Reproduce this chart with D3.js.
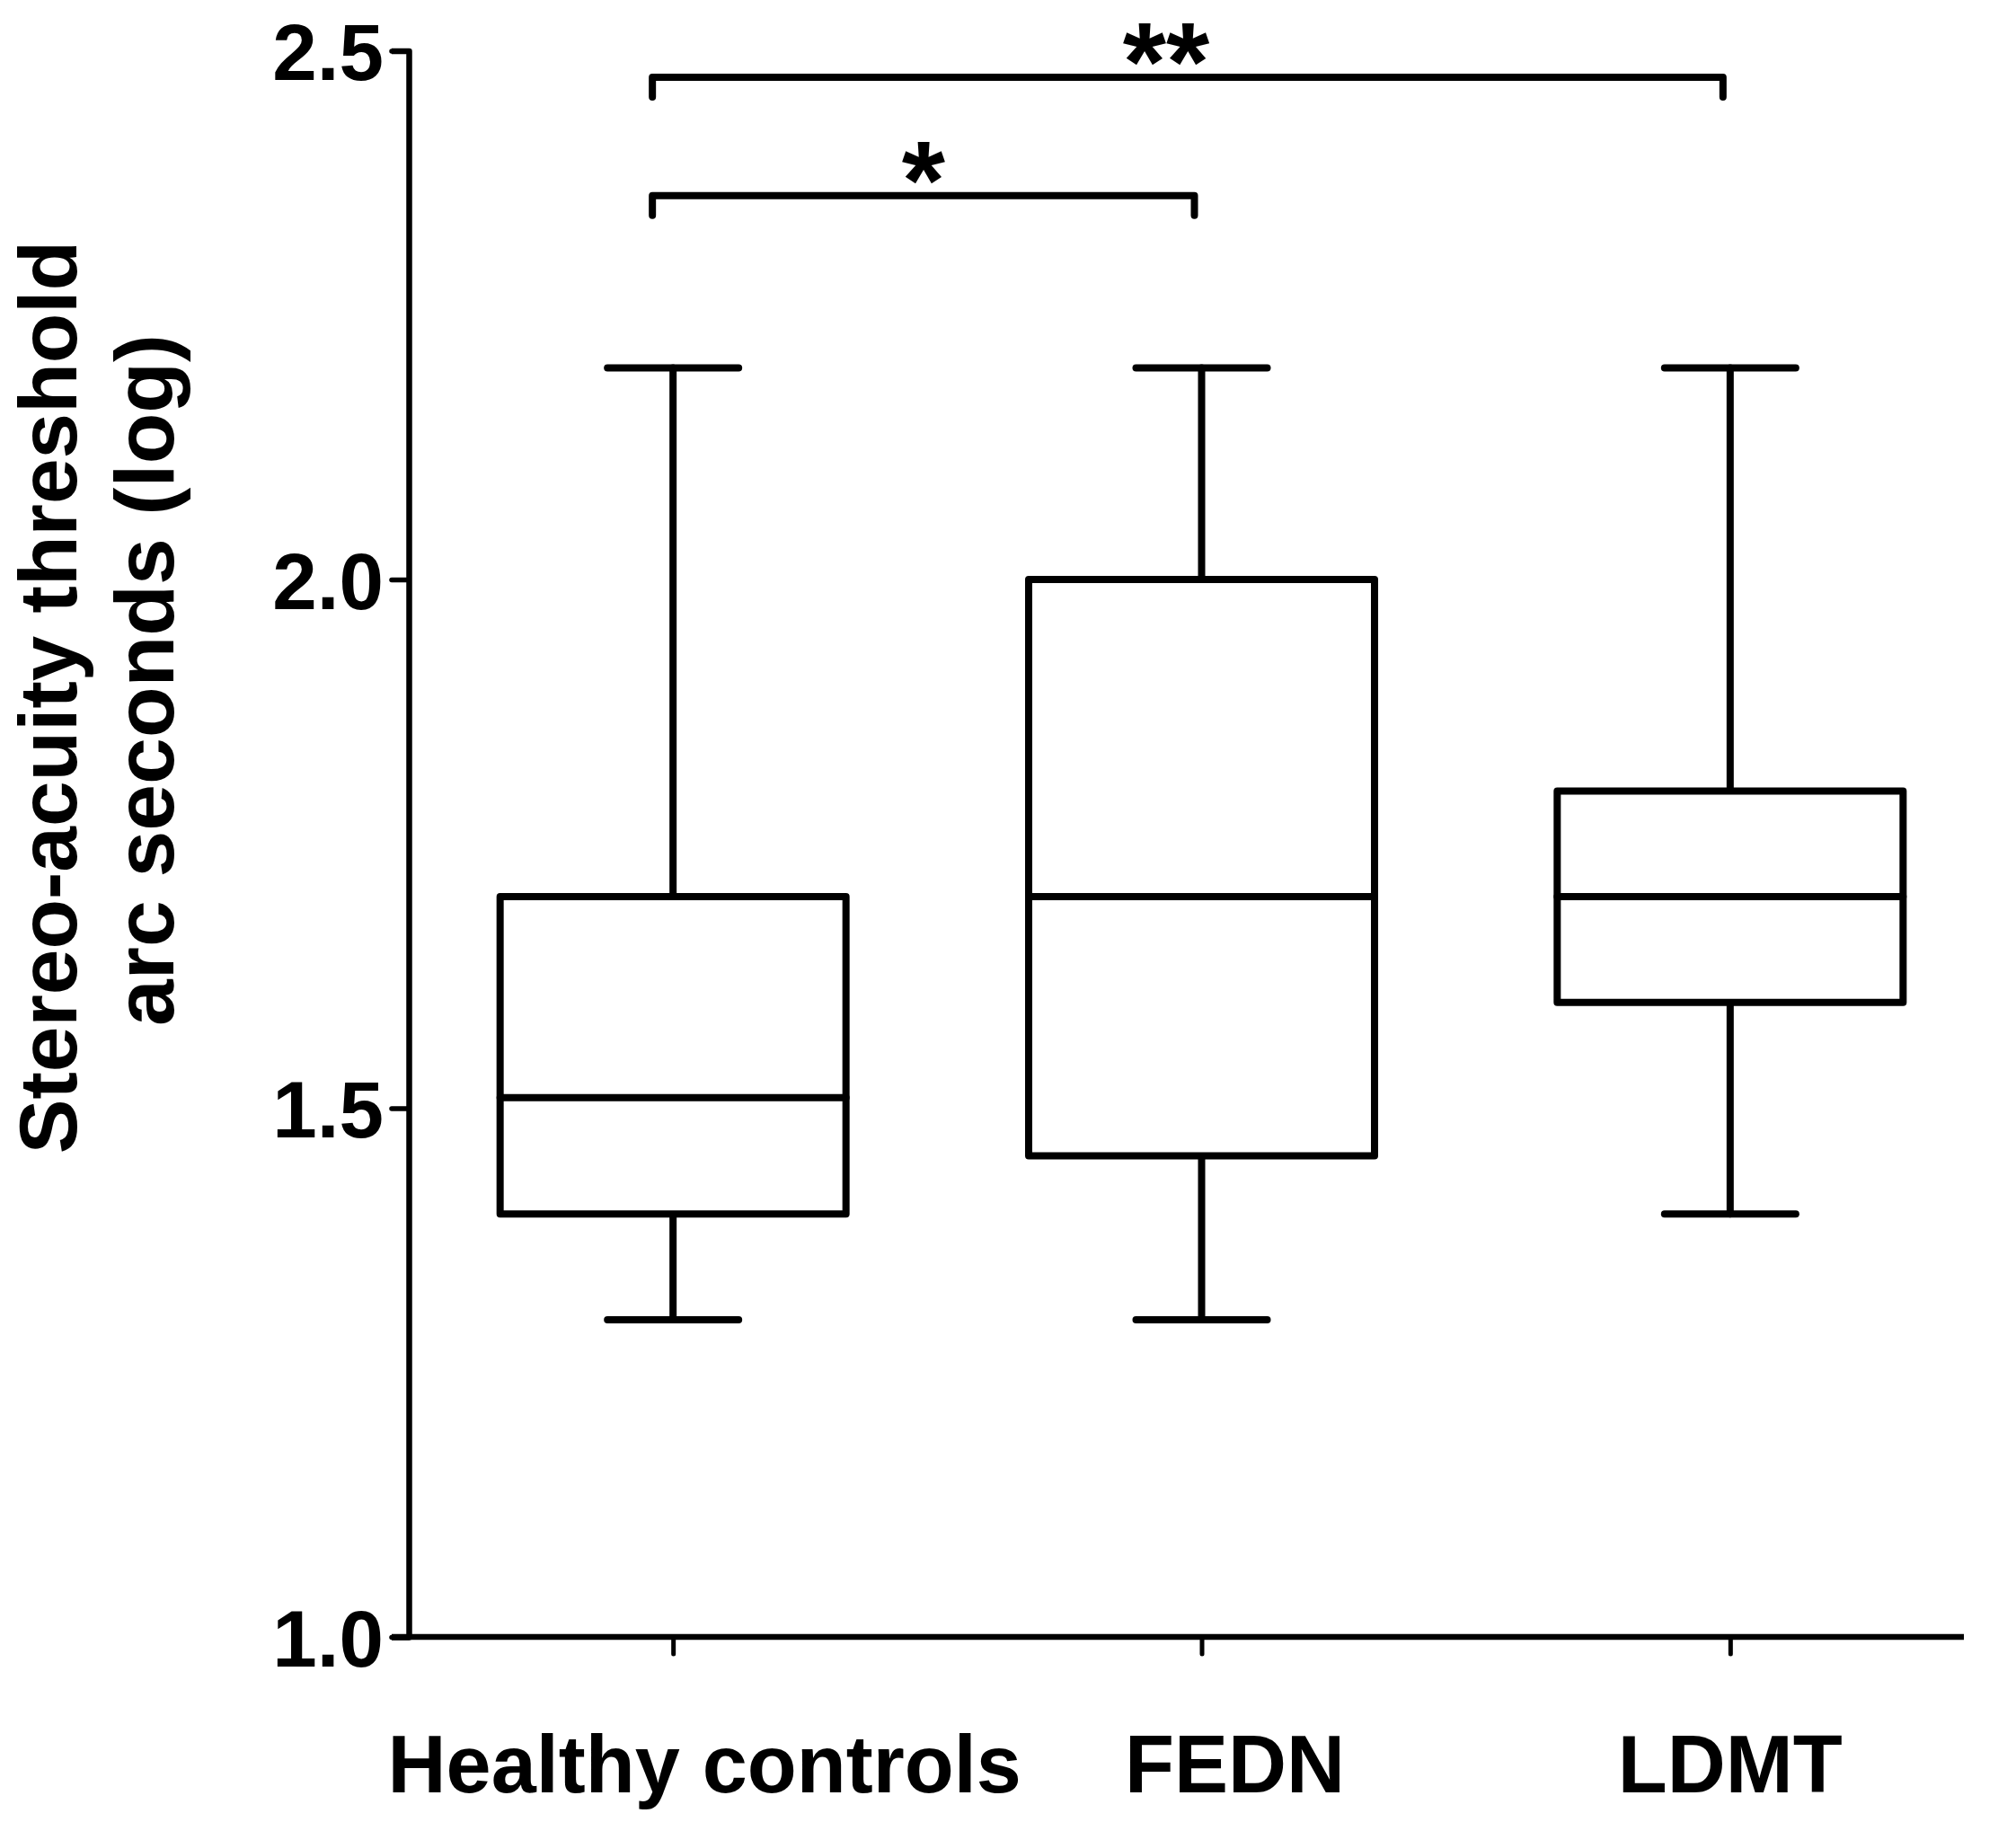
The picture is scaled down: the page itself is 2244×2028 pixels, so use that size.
<!DOCTYPE html>
<html>
<head>
<meta charset="utf-8">
<script src="https://cdn.jsdelivr.net/npm/d3@7"></script>
<style>
  body { margin: 0; background: #fff; }
  text { font-family: "Liberation Sans", Arial, sans-serif; font-weight: bold; fill: #000; }
</style>
</head>
<body>
<svg id="chart" width="2244" height="2028"></svg>
<script>
// groups and box stats (log arc seconds)
const groups = ["Healthy controls", "FEDN", "LDMT"];
const whiskerLow = [1.30, 1.30, 1.40];
const q1 = [1.40, 1.455, 1.60];
const median = [1.51, 1.70, 1.70];
const q3 = [1.70, 2.00, 1.80];
const whiskerHigh = [2.20, 2.20, 2.20];

const yTicks = [1.0, 1.5, 2.0, 2.5];

// significance brackets
const sigFrom = ["Healthy controls", "Healthy controls"];
const sigTo = ["FEDN", "LDMT"];
const sigLevel = [2.363, 2.475];
const sigLabel = ["*", "**"];

const boxes = groups.map((g, i) => ({
  name: g,
  low: whiskerLow[i],
  q1: q1[i],
  med: median[i],
  q3: q3[i],
  high: whiskerHigh[i]
}));

const svg = d3.select("#chart");

const plotLeft = 455, plotRight = 2220, plotTop = 56.5, plotBottom = 1822;

const x = d3.scalePoint()
    .domain(groups)
    .range([plotLeft, plotRight])
    .padding(0.5);

const y = d3.scaleLinear()
    .domain([1, 2.5])
    .range([plotBottom, plotTop]);

const boxW = 385, capW = 146;

// y axis
const yAxis = svg.append("g")
    .attr("transform", "translate(" + plotLeft + ",0)")
    .call(d3.axisLeft(y).tickValues(yTicks).tickFormat(d3.format(".1f"))
      .tickSize(19).tickSizeOuter(19).tickPadding(9));
yAxis.select(".domain").attr("stroke-width", 6.5).attr("stroke-linejoin", "round");
yAxis.selectAll(".tick line").attr("stroke-width", 5.5).attr("stroke-linecap", "round");
yAxis.selectAll(".tick text")
    .style("font-size", "89px")
    .attr("dy", "0.36em");

// x axis
const xAxis = svg.append("g")
    .attr("transform", "translate(0," + plotBottom + ")")
    .call(d3.axisBottom(x).tickSize(19).tickSizeOuter(0).tickFormat(""));
xAxis.select(".domain")
    .attr("d", "M" + (plotLeft - 19) + ",0H2186")
    .attr("stroke-width", 6.5);
xAxis.selectAll(".tick line").attr("stroke-width", 5).attr("stroke-linecap", "round");

// category labels (GraphPad nudges the first two a little right)
const labelShift = [35, 37, 0];
svg.append("g")
  .selectAll("text")
  .data(groups)
  .enter()
  .append("text")
    .attr("x", (d, i) => x(d) + labelShift[i])
    .attr("y", 1995)
    .attr("text-anchor", "middle")
    .style("font-size", "90px")
    .text(d => d);

// y axis title
const title = svg.append("g");
title.append("text")
    .attr("transform", "translate(85,776) rotate(-90)")
    .attr("text-anchor", "middle")
    .style("font-size", "91px")
    .text("Stereo-acuity threshold");
title.append("text")
    .attr("transform", "translate(193,757) rotate(-90)")
    .attr("text-anchor", "middle")
    .style("font-size", "93px")
    .text("arc seconds (log)");

// boxes
const g = svg.append("g")
    .attr("fill", "none")
    .attr("stroke", "#000")
    .attr("stroke-width", 8)
    .attr("stroke-linecap", "round")
    .attr("stroke-linejoin", "round");

const box = g.selectAll(".box")
  .data(boxes)
  .enter()
  .append("g")
    .attr("class", "box");

// whiskers
box.append("line")
    .attr("x1", d => x(d.name)).attr("x2", d => x(d.name))
    .attr("y1", d => y(d.high)).attr("y2", d => y(d.q3));
box.append("line")
    .attr("x1", d => x(d.name)).attr("x2", d => x(d.name))
    .attr("y1", d => y(d.q1)).attr("y2", d => y(d.low));
box.append("line")
    .attr("x1", d => x(d.name) - capW / 2).attr("x2", d => x(d.name) + capW / 2)
    .attr("y1", d => y(d.high)).attr("y2", d => y(d.high));
box.append("line")
    .attr("x1", d => x(d.name) - capW / 2).attr("x2", d => x(d.name) + capW / 2)
    .attr("y1", d => y(d.low)).attr("y2", d => y(d.low));

box.append("rect")
    .attr("x", d => x(d.name) - boxW / 2)
    .attr("width", boxW)
    .attr("y", d => y(d.q3))
    .attr("height", d => y(d.q1) - y(d.q3))
    .attr("fill", "#fff");

box.append("line")
    .attr("x1", d => x(d.name) - boxW / 2).attr("x2", d => x(d.name) + boxW / 2)
    .attr("y1", d => y(d.med)).attr("y2", d => y(d.med));

// significance brackets
const legH = 22;
const sig = sigLabel.map((s, i) => ({
  x0: x(sigFrom[i]) - 23,
  x1: x(sigTo[i]) - 8,
  y: y(sigLevel[i]),
  label: s
}));

g.selectAll(".bracket")
  .data(sig)
  .enter()
  .append("path")
    .attr("class", "bracket")
    .attr("d", d => "M" + d.x0 + "," + (d.y + legH) + "V" + d.y + "H" + d.x1 + "V" + (d.y + legH));

// star labels sit just above the bar; the long one is a bit left of centre
const starShift = [0, -24];
svg.append("g")
  .selectAll("text")
  .data(sig)
  .enter()
  .append("text")
    .attr("x", (d, i) => (d.x0 + d.x1) / 2 + starShift[i])
    .attr("y", d => d.y + 26)
    .attr("text-anchor", "middle")
    .style("font-size", "124px")
    .text(d => d.label);
</script>
</body>
</html>
